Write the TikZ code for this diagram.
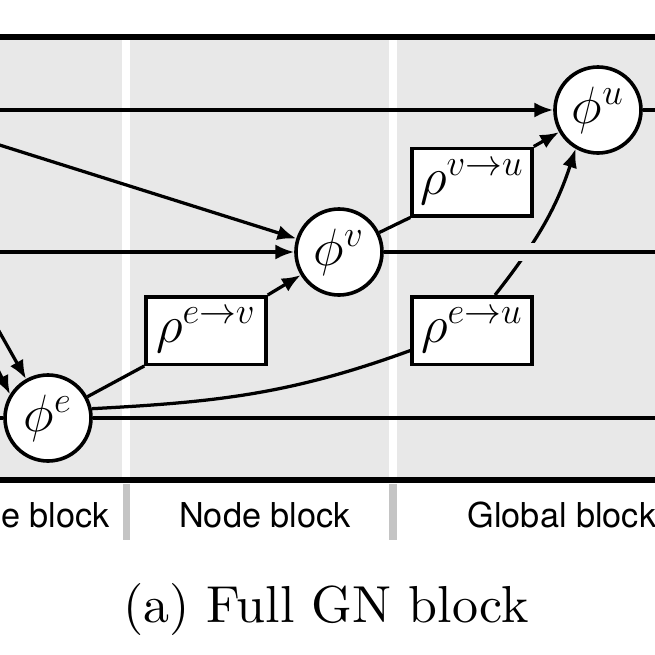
\documentclass[tikz,border=0pt]{standalone}
\usepackage{fix-cm}
\usepackage{amsmath, amssymb}
\usepackage{fontspec}
\newfontfamily\blockfont{TeX Gyre Heros}
\newfontfamily\capfont[Extension=.otf]{lmroman10-regular}
\usetikzlibrary{positioning, arrows.meta}
\definecolor{panelgray}{HTML}{E8E8E8}
\definecolor{sepgray}{HTML}{C4C4C4}

\begin{document}
\begin{tikzpicture}[
        x = 0.4pt, y = -0.4pt,
            >= {Latex[length=7.5pt, width=6pt]},
        line width = 1.3pt,
    phinode/.style = {circle, draw, fill=white, line width=1.45pt, minimum size=34.4pt, inner sep=0pt,
                      font=\fontsize{21}{25}\selectfont},
     aggbox/.style = {rectangle, draw, fill=white, line width=1.4pt, minimum width=48pt, minimum height=27pt,
                      inner sep=0pt, font=\fontsize{21}{25}\selectfont},
   blocklab/.style = {anchor=base, font=\blockfont\fontsize{13.7}{16}\selectfont},
                        ]
\useasboundingbox (0,0) rectangle (655,655);
\clip (0,0) rectangle (655,655);
% panels
\fill[panelgray] (-100,40) rectangle (122,477);
\fill[panelgray] (130,40) rectangle (389,477);
\fill[panelgray] (397,40) rectangle (760,477);
\draw[line width=2.5pt] (-10,37) -- (665,37);
\draw[line width=2.5pt] (-10,480) -- (665,480);
\fill[sepgray] (123,484) rectangle (130,540);
\fill[sepgray] (389,484) rectangle (397,540);
% functions
\node (phie) [phinode] at (48,418) {$\phi^e$};
\node (phiv) [phinode] at (339,252) {$\phi^v$};
\node (phiu) [phinode] at (598,110) {$\phi^u$};
\node (rvu) [aggbox] at (472,182) {$\rho^{v\rightarrow u}$};
\node (reu) [aggbox,below =31pt of rvu] {$\rho^{e\rightarrow u}$};
\node (rev) [aggbox,left =57pt of reu] {$\rho^{e\rightarrow v}$};
% free ends
\coordinate (inU) at (-10,110);
\coordinate (inVd) at (-10,142);
\coordinate (inV) at (-10,252);
\coordinate (inEa) at (-5,324);
\coordinate (inEb) at (-4,366);
\coordinate (inEc) at (-10,418);
\coordinate (outU) at (665,110);
\coordinate (outV) at (665,252);
\coordinate (outE) at (665,418);
% edge block
\draw[->] (inEa) to (phie);
\draw[->] (inEb) to (phie.148);
\draw (inEc) to (phie);
\draw (phie) to (rev.south west);
\draw (phie) to (outE);
% node block
\draw[->] (inVd) to (phiv);
\draw[->] (inV) to (phiv);
\draw[->] (rev.north east) to (phiv);
\draw (phiv) to (rvu.south west);
% global block
\draw[->] (inU) to (phiu);
\draw (phiu) to (outU);
\draw[->] (rvu.north east) to (phiu);
\draw (phie.12) to[out=3, in=200] (reu.198);
\draw[->] (reu.57) to[out=52, in=252] (phiu.240);
\draw[preaction={draw=panelgray, line width=7pt, shorten <=7pt}] (phiv) to (outV);
% labels
\node (eblock) [blocklab] at (25,527) {Edge block};
\node (nblock) [blocklab] at (265,527) {Node block};
\node (gblock) [blocklab] at (562,527) {Global block};
\node (caption) [anchor=base, font=\capfont\fontsize{20.8}{25}\selectfont] at (326,622) {(a) Full GN block};
\end{tikzpicture}
\end{document}
